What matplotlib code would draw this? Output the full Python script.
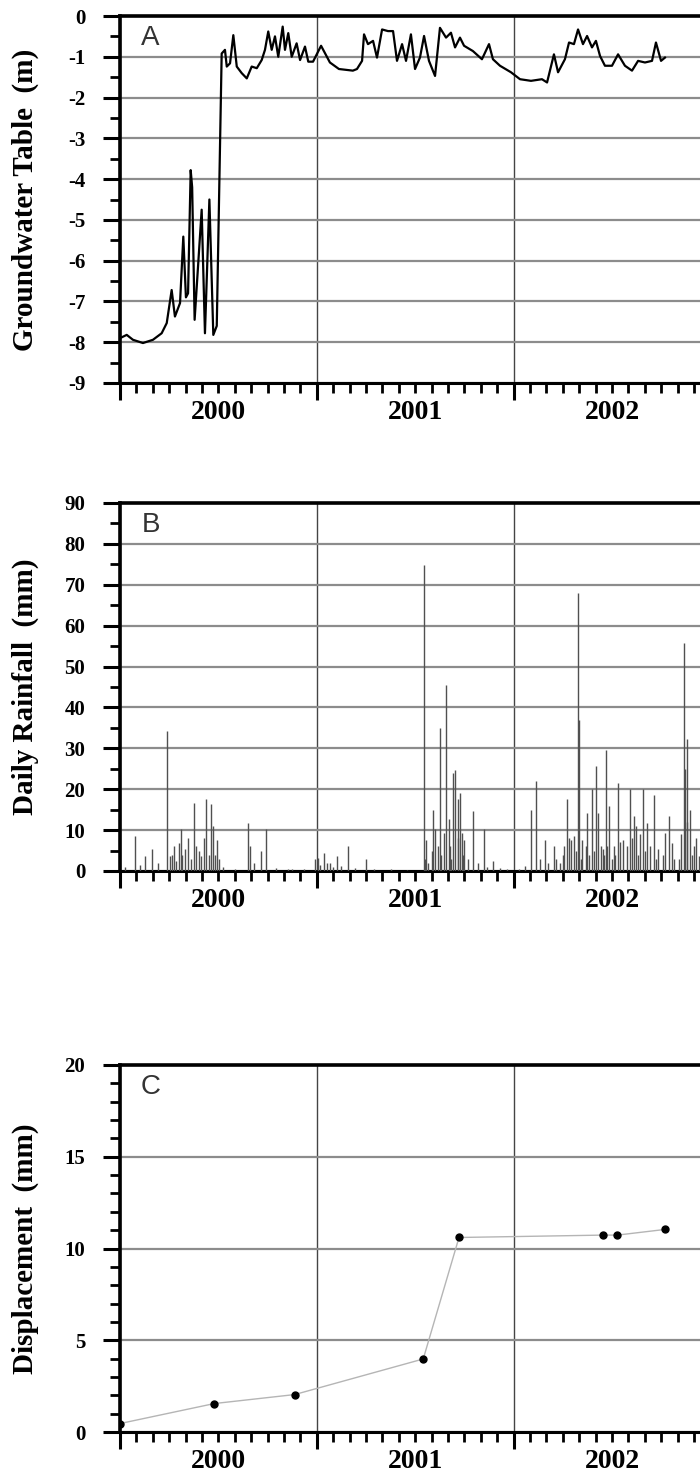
import matplotlib
matplotlib.use("Agg")
import matplotlib.pyplot as plt
from matplotlib.ticker import MultipleLocator, NullFormatter

# ---- data (x in months since Jan 2000) ----
gw_month = [0.0, 0.41, 0.79, 1.40, 2.01, 2.54, 2.85, 3.15, 3.35, 3.66, 3.86, 4.02, 4.15, 4.31, 4.40,
            4.55, 4.98, 5.18, 5.45, 5.69, 5.90, 6.20,
            6.40, 6.51, 6.71, 6.91, 7.12, 7.42, 7.73, 8.03, 8.34, 8.64, 8.84, 9.04, 9.25, 9.45, 9.65,
            9.92, 10.06, 10.26, 10.47, 10.77, 10.98, 11.28, 11.48, 11.77,
            12.26, 12.80, 13.35, 14.20, 14.45, 14.76, 14.88, 15.12, 15.43, 15.67, 15.98, 16.34, 16.65,
            16.89, 17.20, 17.44, 17.74, 17.99, 18.29, 18.54, 18.84, 19.21, 19.51, 19.88, 20.18, 20.43,
            20.73, 20.98, 21.52, 22.07, 22.50, 22.74, 23.17, 23.84,
            24.39, 25.06, 25.73, 26.04, 26.46, 26.71, 27.13, 27.38, 27.68, 27.93, 28.23, 28.48, 28.78,
            29.02, 29.27, 29.57, 30.00, 30.37, 30.79, 31.22, 31.59, 32.01, 32.44, 32.68, 32.99, 33.23]
gw_level = [-7.90, -7.82, -7.94, -8.02, -7.94, -7.78, -7.53, -6.72, -7.37, -7.04, -5.41, -6.90, -6.80,
            -3.78, -4.20, -7.45, -4.75, -7.78, -4.50, -7.82, -7.60, -0.92,
            -0.83, -1.24, -1.16, -0.47, -1.24, -1.40, -1.53, -1.24, -1.28, -1.08, -0.83, -0.38, -0.83,
            -0.50, -1.00, -0.26, -0.83, -0.42, -1.00, -0.67, -1.08, -0.75, -1.12, -1.12,
            -0.73, -1.14, -1.30, -1.34, -1.30, -1.10, -0.45, -0.69, -0.61, -1.02, -0.33, -0.37, -0.37,
            -1.10, -0.69, -1.10, -0.45, -1.30, -1.02, -0.49, -1.10, -1.47, -0.29, -0.53, -0.41, -0.77,
            -0.53, -0.73, -0.86, -1.06, -0.69, -1.06, -1.22, -1.38,
            -1.55, -1.59, -1.55, -1.63, -0.94, -1.38, -1.06, -0.65, -0.69, -0.33, -0.69, -0.49, -0.77,
            -0.61, -0.98, -1.22, -1.22, -0.94, -1.22, -1.34, -1.10, -1.14, -1.10, -0.65, -1.10, -1.02]

rain_month = [0.93, 1.53, 1.94, 2.89, 3.03, 3.30, 3.57, 3.71, 3.98, 4.12, 4.52, 4.65, 4.93, 5.26, 5.56,
              5.69, 5.89, 6.02, 7.79, 7.93, 8.60, 8.93, 10.24, 11.87, 12.06, 12.42, 12.82, 13.23, 13.91,
              15.00, 18.54, 18.68, 19.09, 19.23, 19.49, 19.77, 19.90, 20.04, 20.31, 20.45, 20.58, 20.72,
              20.85, 20.99, 21.53, 22.21, 22.76, 24.67, 25.08, 25.35, 25.89, 26.44, 26.85, 27.26, 27.39,
              27.53, 27.66, 27.93, 28.01, 28.20, 28.48, 28.75, 29.02, 29.16, 29.43, 29.65, 29.84, 30.11,
              30.38, 30.66, 31.07, 31.34, 31.47, 31.88, 32.15, 32.56, 32.83, 33.24, 33.46, 33.65, 34.06,
              34.39, 34.55, 34.73, 35.00, 35.28,
              0.30, 1.20, 2.30, 3.15, 3.40, 3.80, 4.30, 4.80, 5.10, 5.40, 5.80, 6.30, 7.00, 8.20, 9.50,
              10.50, 11.20, 12.20, 12.60, 13.00, 13.50, 14.30, 15.50, 16.50, 17.50, 18.60, 18.80, 19.00,
              19.40, 19.60, 20.10, 20.20, 20.60, 20.90, 21.20, 21.80, 22.40, 23.20, 23.60, 24.30, 25.60,
              26.10, 26.60, 27.00, 27.10, 27.80, 28.10, 28.40, 28.60, 28.90, 29.30, 29.50, 29.70, 30.00,
              30.20, 30.50, 30.90, 31.20, 31.60, 31.70, 32.00, 32.30, 32.70, 33.10, 33.80, 34.20, 34.45,
              34.60, 34.90, 35.10]
rain_mm = [8.5, 3.7, 5.3, 34.2, 3.7, 6.1, 6.9, 10.2, 5.3, 8.1, 16.7, 6.1, 3.7, 17.5, 16.3,
           11.0, 7.7, 2.9, 11.8, 6.1, 4.9, 10.2, 0.4, 2.9, 3.3, 4.5, 2.0, 3.7, 6.1,
           2.9, 74.9, 7.7, 15.0, 10.2, 35.0, 9.4, 45.6, 12.6, 24.0, 24.8, 17.5, 19.1,
           9.4, 7.7, 14.7, 10.2, 2.4, 1.2, 15.0, 22.0, 7.7, 6.1, 2.0, 17.5, 8.1,
           7.7, 8.5, 68.0, 37.0, 7.7, 14.3, 20.0, 25.7, 14.3, 5.3, 29.7, 15.9, 6.1,
           21.6, 7.7, 20.0, 13.4, 11.0, 20.0, 11.8, 18.7, 5.3, 9.4, 13.4, 6.9, 2.9,
           55.8, 32.2, 15.0, 6.1, 3.7,
           1.0, 1.5, 2.0, 4.0, 2.5, 4.0, 3.0, 5.0, 8.0, 4.0, 4.0, 1.0, 0.5, 2.0, 0.8,
           0.5, 0.6, 1.5, 2.0, 1.0, 1.2, 0.8, 0.5, 0.4, 0.3, 3.0, 2.0, 5.0,
           6.0, 4.0, 6.0, 3.0, 8.0, 4.0, 3.0, 2.0, 1.0, 0.8, 0.5, 0.6, 3.0,
           2.0, 3.0, 4.0, 6.0, 5.0, 3.0, 6.0, 4.0, 5.0, 6.0, 4.0, 6.0, 3.0,
           4.0, 7.0, 6.0, 8.0, 4.0, 9.0, 5.0, 6.0, 3.0, 4.0, 3.0, 9.0, 25.0,
           12.0, 4.0, 8.0]

disp_month = [0.0, 5.75, 10.65, 18.49, 20.67, 29.43, 30.33, 33.24]
disp_mm = [0.46, 1.55, 2.04, 3.98, 10.6, 10.73, 10.73, 11.04]

years = ["2000", "2001", "2002"]
ylabels = ["Groundwater Table  (m)", "Daily Rainfall  (mm)", "Displacement  (mm)"]
panel_tags = ["A", "B", "C"]

plt.rcParams["font.family"] = "Liberation Serif"
plt.rcParams["font.weight"] = "bold"
plt.rcParams["axes.unicode_minus"] = False

W, H = 700, 1479
fig = plt.figure(figsize=(W / 100, H / 100), dpi=100)


def px_axes(top, bottom):
    # axes box from pixel rows; runs past the right edge like the cropped source
    left = 120
    width = 4 * 196.8
    return fig.add_axes([left / W, 1 - bottom / H, width / W, (bottom - top) / H])


def style(ax, ymin, ymax, major, minor, tag, ylabel):
    ax.set_xlim(0, 48)
    ax.set_ylim(ymin, ymax)
    ax.xaxis.set_major_locator(MultipleLocator(12))
    ax.xaxis.set_minor_locator(MultipleLocator(1))
    ax.xaxis.set_major_formatter(NullFormatter())
    ax.yaxis.set_major_locator(MultipleLocator(major))
    ax.yaxis.set_minor_locator(MultipleLocator(minor))
    ax.tick_params(axis="both", which="major", direction="out", length=12, width=2.2, color="black")
    ax.tick_params(axis="both", which="minor", direction="out", length=7, width=2.0, color="black")
    ax.tick_params(axis="y", labelsize=15, pad=13)
    ax.tick_params(top=False, right=False)
    ax.grid(axis="y", which="major", color="#8c8c8c", linewidth=1.6, zorder=0)
    ax.grid(axis="x", which="major", color="#444444", linewidth=1.0, zorder=0)
    ax.set_axisbelow(True)
    ax.spines["left"].set_linewidth(2.6)
    ax.spines["bottom"].set_linewidth(2.2)
    ax.spines["top"].set_linewidth(2.6)
    ax.spines["right"].set_visible(False)
    for i, yr in enumerate(years):
        ax.annotate(yr, xy=(6 + 12 * i, 0), xycoords=("data", "axes fraction"),
                    xytext=(0, -21.5), textcoords="offset points",
                    ha="center", va="center", fontsize=20, fontweight="bold",
                    annotation_clip=False)
    ax.annotate(tag, xy=(0, 1), xycoords="axes fraction", xytext=(22, -16),
                textcoords="offset points", ha="center", va="center",
                fontsize=20, fontweight="normal", family="Liberation Sans", color="#333333")
    bb = ax.get_position()
    fig.text(25 / W, bb.y0 + bb.height / 2, ylabel, rotation=90, ha="center", va="center",
             fontsize=21, fontweight="bold")


# A: groundwater table
axA = px_axes(16, 383)
axA.plot(gw_month, gw_level, color="black", linewidth=1.6, zorder=3)
style(axA, -9, 0, 1, 0.5, panel_tags[0], ylabels[0])

# B: daily rainfall
axB = px_axes(503, 871)
axB.vlines(rain_month, 0, rain_mm, color="#505050", linewidth=1.0, zorder=3)
style(axB, 0, 90, 10, 5, panel_tags[1], ylabels[1])

# C: displacement
axC = px_axes(1065, 1432)
axC.plot(disp_month, disp_mm, color="#b5b5b5", linewidth=1.0, zorder=3)
axC.plot(disp_month, disp_mm, linestyle="none", marker="o", markersize=5,
         color="black", zorder=4)
style(axC, 0, 20, 5, 1, panel_tags[2], ylabels[2])

fig.savefig("out.png", dpi=100, facecolor="white")
